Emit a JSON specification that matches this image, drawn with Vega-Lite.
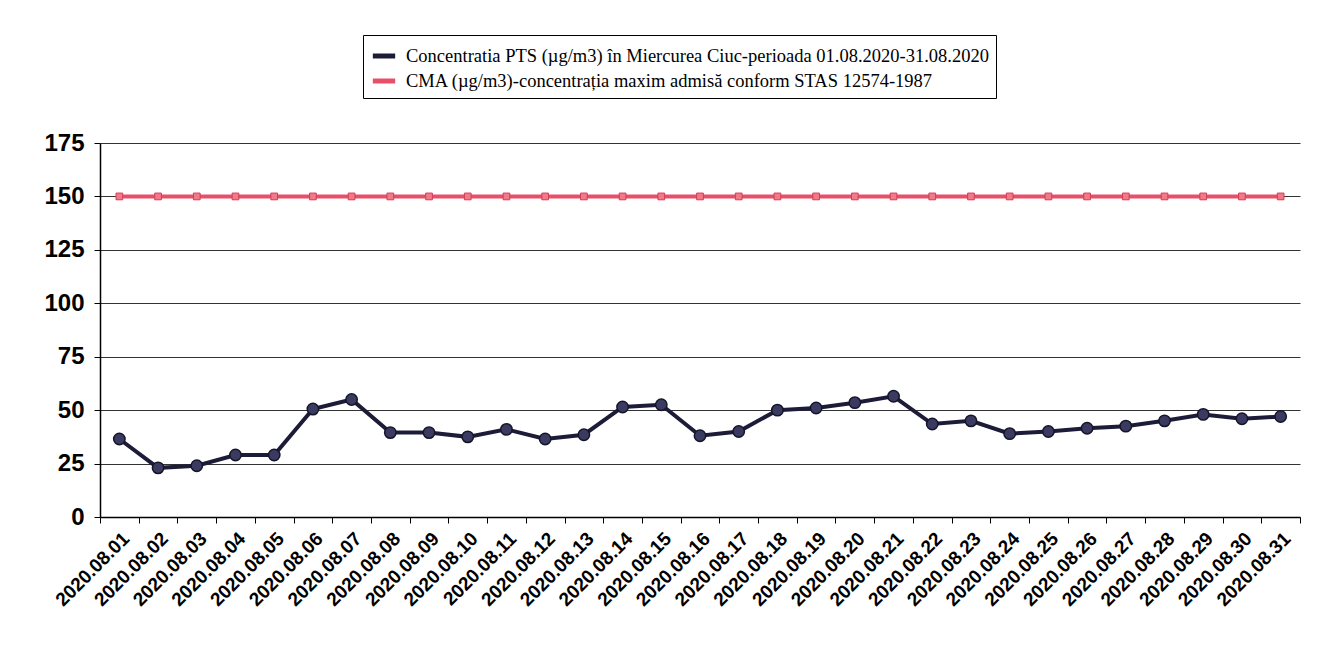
{
  "$schema": "https://vega.github.io/schema/vega-lite/v6.json",
  "width": 1200,
  "height": 374,
  "padding": {"left": 43, "top": 34, "right": 17, "bottom": 5},
  "background": "white",
  "data": {
    "values": [
      {"date": "2020.08.01", "PTS": 36.5, "CMA": 150},
      {"date": "2020.08.02", "PTS": 23, "CMA": 150},
      {"date": "2020.08.03", "PTS": 24, "CMA": 150},
      {"date": "2020.08.04", "PTS": 29, "CMA": 150},
      {"date": "2020.08.05", "PTS": 29, "CMA": 150},
      {"date": "2020.08.06", "PTS": 50.5, "CMA": 150},
      {"date": "2020.08.07", "PTS": 55, "CMA": 150},
      {"date": "2020.08.08", "PTS": 39.5, "CMA": 150},
      {"date": "2020.08.09", "PTS": 39.5, "CMA": 150},
      {"date": "2020.08.10", "PTS": 37.5, "CMA": 150},
      {"date": "2020.08.11", "PTS": 41, "CMA": 150},
      {"date": "2020.08.12", "PTS": 36.5, "CMA": 150},
      {"date": "2020.08.13", "PTS": 38.5, "CMA": 150},
      {"date": "2020.08.14", "PTS": 51.5, "CMA": 150},
      {"date": "2020.08.15", "PTS": 52.5, "CMA": 150},
      {"date": "2020.08.16", "PTS": 38, "CMA": 150},
      {"date": "2020.08.17", "PTS": 40, "CMA": 150},
      {"date": "2020.08.18", "PTS": 50, "CMA": 150},
      {"date": "2020.08.19", "PTS": 51, "CMA": 150},
      {"date": "2020.08.20", "PTS": 53.5, "CMA": 150},
      {"date": "2020.08.21", "PTS": 56.5, "CMA": 150},
      {"date": "2020.08.22", "PTS": 43.5, "CMA": 150},
      {"date": "2020.08.23", "PTS": 45, "CMA": 150},
      {"date": "2020.08.24", "PTS": 39, "CMA": 150},
      {"date": "2020.08.25", "PTS": 40, "CMA": 150},
      {"date": "2020.08.26", "PTS": 41.5, "CMA": 150},
      {"date": "2020.08.27", "PTS": 42.5, "CMA": 150},
      {"date": "2020.08.28", "PTS": 45, "CMA": 150},
      {"date": "2020.08.29", "PTS": 48, "CMA": 150},
      {"date": "2020.08.30", "PTS": 46, "CMA": 150},
      {"date": "2020.08.31", "PTS": 47, "CMA": 150}
    ]
  },
  "transform": [
    {"fold": ["PTS", "CMA"], "as": ["key", "value"]},
    {"calculate": "datum.key === 'PTS' ? 'Concentratia PTS (µg/m3) în Miercurea Ciuc-perioada 01.08.2020-31.08.2020' : 'CMA (µg/m3)-concentrația maxim admisă conform STAS 12574-1987'", "as": "series"}
  ],
  "encoding": {
    "x": {
      "field": "date",
      "type": "ordinal",
      "bandPosition": 0.5,
      "scale": {"type": "band", "paddingInner": 0, "paddingOuter": 0},
      "axis": {
        "title": null,
        "labelAngle": -45,
        "labelFont": "Liberation Sans",
        "labelFontWeight": "bold",
        "labelFontSize": 19,
        "labelColor": "black",
        "labelPadding": 6,
        "tickBand": "extent",
        "tickColor": "black",
        "tickSize": 6,
        "domainColor": "black",
        "domainWidth": 1.5
      }
    },
    "y": {
      "field": "value",
      "type": "quantitative",
      "scale": {"domain": [0, 175], "nice": false},
      "axis": {
        "title": null,
        "values": [0, 25, 50, 75, 100, 125, 150, 175],
        "labelFont": "Liberation Sans",
        "labelFontWeight": "bold",
        "labelFontSize": 24,
        "labelColor": "black",
        "labelPadding": 10,
        "tickColor": "black",
        "tickSize": 6,
        "domainColor": "black",
        "domainWidth": 1.5,
        "gridColor": "black",
        "gridOpacity": 0.8,
        "gridWidth": 1
      }
    },
    "color": {
      "field": "series",
      "type": "nominal",
      "scale": {
        "domain": [
          "Concentratia PTS (µg/m3) în Miercurea Ciuc-perioada 01.08.2020-31.08.2020",
          "CMA (µg/m3)-concentrația maxim admisă conform STAS 12574-1987"
        ],
        "range": ["#1c1c38", "#e8506a"]
      },
      "legend": {
        "title": null,
        "orient": "none",
        "legendX": 263,
        "legendY": -108,
        "direction": "vertical",
        "symbolType": "stroke",
        "symbolStrokeWidth": 5,
        "symbolSize": 500,
        "labelFont": "Liberation Serif",
        "labelFontSize": 18.5,
        "labelColor": "black",
        "labelLimit": 900,
        "labelOffset": 8,
        "rowPadding": 1,
        "padding": 7,
        "strokeColor": "black",
        "fillColor": "white"
      }
    }
  },
  "layer": [
    {"mark": {"type": "line", "strokeWidth": 4}},
    {
      "transform": [{"filter": "datum.key === 'PTS'"}],
      "mark": {"type": "point", "shape": "circle", "filled": true, "size": 130, "fill": "#3b3b62", "stroke": "#15152a", "strokeWidth": 1.5, "opacity": 1}
    },
    {
      "transform": [{"filter": "datum.key === 'CMA'"}],
      "mark": {"type": "point", "shape": "square", "filled": true, "size": 45, "fill": "#f07a8a", "stroke": "#d83a55", "strokeWidth": 1, "opacity": 1}
    }
  ],
  "config": {"view": {"stroke": null}}
}
